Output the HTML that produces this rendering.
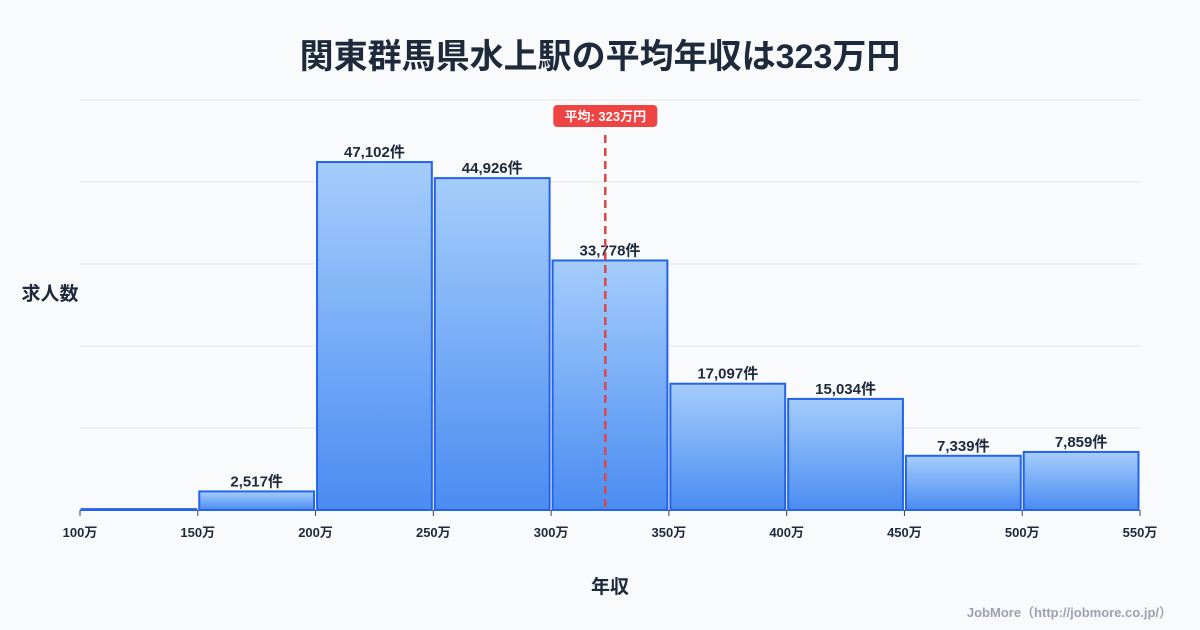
<!DOCTYPE html>
<html><head><meta charset="utf-8"><style>
body{margin:0;background:#f8fafc;font-family:"Liberation Sans","Noto Sans CJK JP",sans-serif;}
#wrap{position:relative;width:1200px;height:630px;overflow:hidden;background:#f8fafc;}
</style></head><body>
<div id="wrap">
<svg id="chart" width="1200" height="630">
<defs><linearGradient id="g" x1="0" y1="0" x2="0" y2="1"><stop offset="0" stop-color="#a5cdfb"/><stop offset="1" stop-color="#4a8cf2"/></linearGradient></defs>
<text x="600" y="68" text-anchor="middle" font-size="34" font-weight="bold" fill="#1e293b" style="paint-order:stroke" stroke="#cbd5e1" stroke-width="0">関東群馬県水上駅の平均年収は323万円</text>
<text x="50" y="300" text-anchor="middle" font-size="19" font-weight="bold" fill="#1e293b">求人数</text>
<text x="610" y="593" text-anchor="middle" font-size="19" font-weight="bold" fill="#1e293b">年収</text>
<text x="1172" y="617" text-anchor="end" font-size="13" font-weight="bold" fill="#9ca3af">JobMore（http://jobmore.co.jp/）</text>
<g id="grid"></g><g id="bars"></g><g id="axis"></g><g id="mean"></g>
</svg>
</div>
<script>
const binStarts=[100,150,200,250,300,350,400,450,500];
const counts=[120,2517,47102,44926,33778,17097,15034,7339,7859];
const tickLabels=["100万","150万","200万","250万","300万","350万","400万","450万","500万","550万"];
const meanValue=323;
const NS="http://www.w3.org/2000/svg";
const X0=80,X1=1140,Y0=510,YT=100,xmin=100,xmax=550,ymax=55500;
const xs=v=>X0+(v-xmin)/(xmax-xmin)*(X1-X0);
const ys=v=>Y0-v/ymax*(Y0-YT);
function mk(t,a,p){const e=document.createElementNS(NS,t);for(const k in a)e.setAttribute(k,a[k]);p.appendChild(e);return e;}
const grid=document.getElementById('grid'),bars=document.getElementById('bars'),axis=document.getElementById('axis'),mean=document.getElementById('mean');
for(let i=0;i<=5;i++){const y=YT+i*(Y0-YT)/5;const l=mk('line',{x1:X0,x2:X1,y1:y,y2:y,stroke:'#e5e7eb','stroke-width':1},grid);

}
const bw=(X1-X0)/binStarts.length;
binStarts.forEach((b,i)=>{const x=xs(b)+1.5,w=xs(b+50)-xs(b)-3,y=ys(counts[i]);
const r=mk('rect',{x:x,y:y,width:w,height:Math.max(Y0-y,0.5),fill:'url(#g)',stroke:'#2563eb','stroke-width':2},bars);


if(counts[i]>=1000){const t=mk('text',{x:x+w/2,y:y-5,'text-anchor':'middle','font-size':15,'font-weight':'bold',fill:'#1e293b'},bars);t.textContent=counts[i].toLocaleString('en-US')+'件';

}});
tickLabels.forEach((s,i)=>{const x=xs(xmin+i*50);mk('line',{x1:x,x2:x,y1:Y0,y2:Y0+6,stroke:'#374151','stroke-width':1},axis);
const t=mk('text',{x:x,y:Y0+27,'text-anchor':'middle','font-size':13,'font-weight':'bold',fill:'#1e293b'},axis);t.textContent=s;

});
const mx=xs(meanValue);
const ml=mk('line',{x1:mx,x2:mx,y1:135,y2:Y0,stroke:'#dc4646','stroke-width':2.5,'stroke-dasharray':'8,5'},mean);


const mb=mk('rect',{x:mx-52,y:105,width:104,height:22,rx:4,fill:'#ef4444'},mean);


const mt=mk('text',{x:mx,y:121,'text-anchor':'middle','font-size':13,'font-weight':'bold',fill:'#fff'},mean);mt.textContent='平均: '+meanValue+'万円';


</script>
</body></html>
